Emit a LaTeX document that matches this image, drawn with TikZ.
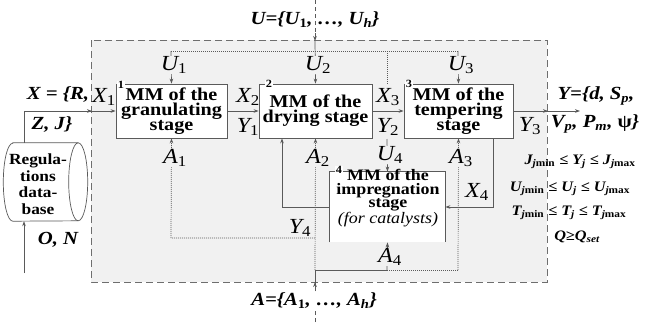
\documentclass[tikz,border=0pt]{standalone}
\usepackage{fontspec}
\setmainfont{Liberation Serif}[UprightFont=*,BoldFont=* Bold,ItalicFont=* Italic,BoldItalicFont=* Bold Italic,FakeStretch=1.12]
\usetikzlibrary{arrows.meta}
\definecolor{lc}{HTML}{5A5A5A}
\definecolor{bg}{HTML}{F1F1F1}
\definecolor{bc}{HTML}{6E6E6E}
\newcommand\bxf{\fontsize{18}{15}\selectfont\bfseries}
\newcommand\lbf{\fontsize{21.5}{21.5}\selectfont\itshape}
\newcommand\bgf{\fontsize{18.5}{18.5}\selectfont\bfseries\itshape}
\newcommand\csf{\fontsize{14.5}{14.5}\selectfont\bfseries\itshape}
\newcommand\ssb[1]{\textsubscript{\upshape #1}}
\newcommand\isb[1]{\textsubscript{#1}}
\begin{document}
\begin{tikzpicture}[x=1pt,y=-1pt,>={Stealth[length=5pt,width=3.6pt]},
  ln/.style={draw=lc,line width=0.7pt},
  dt/.style={ln,dash pattern=on 1pt off 1pt},
  box/.style={draw=lc,fill=white,line width=0.8pt,align=center,font=\bxf,inner sep=0pt},
  lab/.style={font=\lbf,inner sep=0.3pt},
  labf/.style={lab,fill=bg},
  big/.style={font=\bgf,inner sep=0pt},
  cst/.style={font=\csf,inner sep=0pt},
  num/.style={font=\fontsize{11}{11}\selectfont\bfseries,inner sep=0.6pt,fill=white}]
\useasboundingbox (0,0) rectangle (646,322);
\fill[white] (0,0) rectangle (646,322);
\draw[draw=bc,fill=bg,line width=1pt,dash pattern=on 7pt off 4pt] (91,40) rectangle (547,282);

% boxes
\node[box,minimum width=111pt,minimum height=54pt] (b1) at (171.5,111) {MM of the\\granulating\\stage};
\node[box,minimum width=113pt,minimum height=54pt] (b2) at (315.5,111) {MM of the\\drying stage};
\node[box,minimum width=109pt,minimum height=54pt] (b3) at (458.5,111) {MM of the\\tempering\\stage};
\node[box,draw=none,minimum width=115pt,minimum height=70pt] (b4) at (387.5,207) {};
\draw[ln,line width=0.8pt] (b4.south west) -- (b4.north west) -- (b4.north east) -- (b4.south east);
\node[align=center,inner sep=0pt,font=\fontsize{16}{13.2}\selectfont\bfseries] (b4t) at (388,198) {MM of the\\impregnation\\stage\\{\mdseries\itshape (for catalysts)}};

\node[num] (n1) at (121,85) {1};
\node[num] (n2) at (269,84) {2};
\node[num] (n3) at (409,84) {3};
\node[num] (n4) at (339,170) {4};

% database
\node[inner sep=0pt,minimum width=65pt,minimum height=78pt] (db) at (45.5,182) {};
\draw[ln,fill=white] (db.north west) -- (db.north east)
  arc[start angle=90,end angle=-90,x radius=9.5pt,y radius=39pt] -- (db.south west)
  arc[start angle=-90,end angle=-270,x radius=9.5pt,y radius=39pt] -- cycle;
\draw[ln] (db.north east) arc[start angle=90,end angle=270,x radius=9.5pt,y radius=39pt];
\node[align=center,inner sep=0pt,font=\fontsize{15.5}{16.5}\selectfont\bfseries] (dbt) at (38,184) {Regula-\\tions\\data-\\base};

% left input
\coordinate (onb) at (24,273);
\draw[ln,->] (onb) -- (onb |- db.south);
\draw[ln,->] (onb |- db.north) |- (b1.west);
\draw[ln,->] (86,111) -- (92,111);
\node[big] (xt1) at (58,95) {X = \{R,};
\node[big] (xt2) at (52,125) {Z, J\}};
\node[big] (on) at (58,240) {O, N};
\node[lab] (lx1) at (104,97) {X\ssb{1}};

% top U input
\coordinate (topU) at (315,0);
\draw[draw=lc,line width=0.7pt,dash pattern=on 4pt off 3pt] (topU) -- (315,35);
\draw[ln,->] (315,33) -- (315,41);
\draw[ln,->] (315,41) -- (b2.north);
\node[big] (ut) at (315,20) {U=\{U\textsubscript{\bfseries\upshape 1}, …, U\isb{h}\}};
\draw[dt] (171,51) -- (458,51);
\draw[ln,->] (171,51) -- (b1.north);
\draw[ln,->] (458,51) -- (b3.north);
\coordinate (x3top) at (387,84);
\draw[dt] (387,51) -- (x3top);
\node[labf] (lu1) at (174,65) {U\ssb{1}};
\node[labf] (lu2) at (318,65) {U\ssb{2}};
\node[labf] (lu3) at (461,65) {U\ssb{3}};

% main flow
\draw[ln,->] (b1.east) -- (b2.west);
\draw[ln,->] (b2.east) -- (b3.west);
\coordinate (yend) at (580,111);
\draw[ln,->] (b3.east) -- (yend);
\draw[ln,->] (541,111) -- (548,111);
\node[lab] (lx2) at (248,97) {X\ssb{2}};
\node[lab] (ly1) at (248,127) {Y\ssb{1}};
\node[lab] (lx3) at (388,97) {X\ssb{3}};
\node[lab] (ly2) at (388,127) {Y\ssb{2}};
\node[lab] (ly3) at (530,126) {Y\ssb{3}};
\node[big] (yt1) at (596,96) {Y=\{d, S\isb{p},};
\node[big] (yt2) at (595,124) {V\isb{p}, P\isb{m}, {\upshape ψ}\}};

% constraints
\node[cst] (c1) at (580,162) {J\isb{j\upshape min} ≤ Y\isb{j} ≤ J\isb{j\upshape max}};
\node[cst] (c2) at (570,189) {U\isb{j\upshape min} ≤ U\isb{j} ≤ U\isb{j\upshape max}};
\node[cst] (c3) at (569,213) {T\isb{j\upshape min} ≤ T\isb{j} ≤ T\isb{j\upshape max}};
\node[cst] (c4) at (577,237) {Q≥Q\isb{set}};

% U4 and feedbacks
\coordinate (u4s) at (387,139);
\draw[ln,->] (u4s) -- (b4.north);
\node[labf] (lu4) at (390,155) {U\ssb{4}};
\coordinate (fb) at (282,207);
\draw[ln,->] (b4.west) -- (fb) -- (fb |- b2.south);
\coordinate (x4c) at (493,207);
\draw[ln,->] (x4c |- b3.south) -- (x4c) -- (b4.east);
\node[lab] (lx4) at (477,192) {X\ssb{4}};

% A inputs
\coordinate (botA) at (315,322);
\coordinate (aj) at (315,270);
\draw[draw=lc,line width=0.7pt,dash pattern=on 4pt off 3pt] (botA) -- (315,311);
\node[big,fill=white,inner sep=1pt] (at) at (314,301) {A=\{A\textsubscript{\bfseries\upshape 1}, …, A\isb{h}\}};
\draw[ln] (315,291) -- (aj);
\draw[ln,->] (315,291) -- (315,282);
\draw[dt,->] (aj) -- (b2.south);
\draw[ln] (aj) -- (387,270);
\draw[dt] (387,270) -- (458,270);
\draw[ln,->] (387,270) -- (b4.south);
\draw[dt,->] (458,270) -- (b3.south);
\coordinate (a1c) at (171,238);
\draw[dt,->] (315,238) -- (a1c) -- (b1.south);
\node[labf] (la1) at (175,158) {A\ssb{1}};
\node[labf] (la2) at (318,158) {A\ssb{2}};
\node[labf] (la3) at (461,158) {A\ssb{3}};
\node[labf] (la4) at (390,257) {A\ssb{4}};
\node[lab] (ly4) at (300,228) {Y\ssb{4}};
\end{tikzpicture}
\end{document}
